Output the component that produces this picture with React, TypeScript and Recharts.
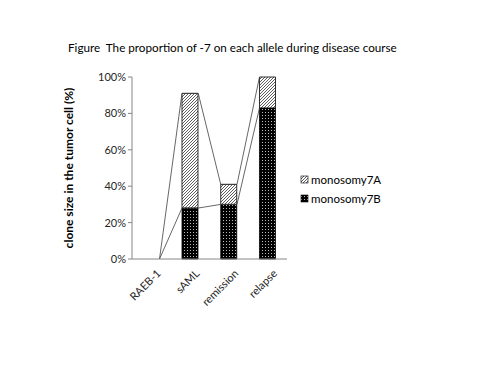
import React from 'react';
import { ComposedChart, Bar, Line, XAxis, YAxis } from 'recharts';

const categories = ['RAEB-1', 'sAML', 'remission', 'relapse'];
const monosomy7B = [0, 28, 30, 83];
const monosomy7A = [0, 63, 11, 17];
const yTicks = [0, 20, 40, 60, 80, 100];
const seriesNames = ['monosomy7A', 'monosomy7B'];
const titleText = 'Figure  The proportion of -7 on each allele during disease course';
const yLabel = 'clone size in the tumor cell (%)';

const data = categories.map((name, i) => ({ name, b: monosomy7B[i], a: monosomy7A[i] }));

const GAP = 0.29;
const half = (1 - 2 * GAP) / 2;

const lowerLine: { x: number; y: number }[] = [];
const upperLine: { x: number; y: number }[] = [];
categories.forEach((_, i) => {
  const tot = monosomy7B[i] + monosomy7A[i];
  if (i > 0) {
    lowerLine.push({ x: i + 0.5 - half, y: monosomy7B[i] });
    upperLine.push({ x: i + 0.5 - half, y: tot });
  }
  if (i < categories.length - 1) {
    lowerLine.push({ x: i + 0.5 + half, y: monosomy7B[i] });
    upperLine.push({ x: i + 0.5 + half, y: tot });
  }
});
const boundaryTicks = categories.map((_, i) => i + 1);

const FONT = 'Lato, "Open Sans", sans-serif';

const XTick = (props: any) => {
  const { x, y, payload } = props;
  const ax = x + 7;
  const ay = y + 4;
  return (
    <text
      x={ax}
      y={ay}
      transform={`rotate(-45 ${ax} ${ay})`}
      textAnchor="end"
      dominantBaseline="central"
      fontSize={11}
      fontFamily={FONT}
      fill="#262626"
    >
      {payload.value}
    </text>
  );
};

export default function App() {
  return (
    <div style={{ position: 'absolute', left: 0, top: 0, width: 500, height: 375, background: '#fff' }}>
      <svg width={0} height={0} style={{ position: 'absolute' }}>
        <defs>
          <pattern id="hatchA" patternUnits="userSpaceOnUse" width={3} height={3}>
            <rect width={3} height={3} fill="#fff" />
            <path d="M-1,1 L1,-1 M0,3 L3,0 M2,4 L4,2" stroke="#333" strokeWidth={0.8} />
          </pattern>
          <pattern id="dotsB" patternUnits="userSpaceOnUse" width={3} height={3}>
            <rect width={3} height={3} fill="#000" />
            <rect x={1} y={1} width={1} height={1} fill="#bbb" />
          </pattern>
        </defs>
      </svg>
      <ComposedChart
        width={500}
        height={375}
        data={data}
        margin={{ top: 77, right: 213, bottom: 56, left: 82 }}
        barCategoryGap={`${GAP * 100}%`}
      >
        <XAxis
          xAxisId="num"
          type="number"
          dataKey="x"
          domain={[0, 4]}
          ticks={boundaryTicks}
          tick={false}
          axisLine={false}
          tickLine={{ stroke: '#868686' }}
          tickSize={4}
          height={0}
          allowDataOverflow
        />
        <XAxis
          dataKey="name"
          axisLine={{ stroke: '#868686' }}
          tickLine={false}
          tick={<XTick />}
          interval={0}
          height={60}
        />
        <YAxis
          domain={[0, 100]}
          ticks={yTicks}
          tickFormatter={(v: number) => `${v}%`}
          axisLine={{ stroke: '#868686' }}
          tickLine={{ stroke: '#868686' }}
          tickSize={4}
          tick={{ fontSize: 11, fontFamily: FONT, fill: '#262626' }}
          width={50}
        />
        <Line
          xAxisId="num"
          data={lowerLine}
          dataKey="y"
          type="linear"
          stroke="#404040"
          strokeWidth={0.8}
          dot={false}
          isAnimationActive={false}
        />
        <Line
          xAxisId="num"
          data={upperLine}
          dataKey="y"
          type="linear"
          stroke="#404040"
          strokeWidth={0.8}
          dot={false}
          isAnimationActive={false}
        />
        <Bar dataKey="b" stackId="s" name={seriesNames[1]} fill="url(#dotsB)" stroke="#000" strokeWidth={0.8} isAnimationActive={false} />
        <Bar dataKey="a" stackId="s" name={seriesNames[0]} fill="url(#hatchA)" stroke="#000" strokeWidth={0.8} isAnimationActive={false} />
      </ComposedChart>
      <svg width={500} height={375} style={{ position: 'absolute', left: 0, top: 0, pointerEvents: 'none' }}>
        <text x={68} y={52} fontSize={11.7} fontFamily={FONT} fill="#000" style={{ whiteSpace: 'pre' }}>{titleText}</text>
        <text
          x={73}
          y={168}
          transform="rotate(-90 73 168)"
          textAnchor="middle"
          fontSize={12}
          fontWeight="bold"
          fontFamily={FONT}
          fill="#000"
        >
          {yLabel}
        </text>
        <rect x={301} y={176} width={7} height={7} fill="url(#hatchA)" stroke="#000" strokeWidth={0.6} />
        <text x={311} y={183.5} fontSize={11.5} fontFamily={FONT} fill="#000">{seriesNames[0]}</text>
        <rect x={301} y={195} width={7} height={7} fill="url(#dotsB)" stroke="#000" strokeWidth={0.6} />
        <text x={311} y={202.5} fontSize={11.5} fontFamily={FONT} fill="#000">{seriesNames[1]}</text>
      </svg>
    </div>
  );
}
